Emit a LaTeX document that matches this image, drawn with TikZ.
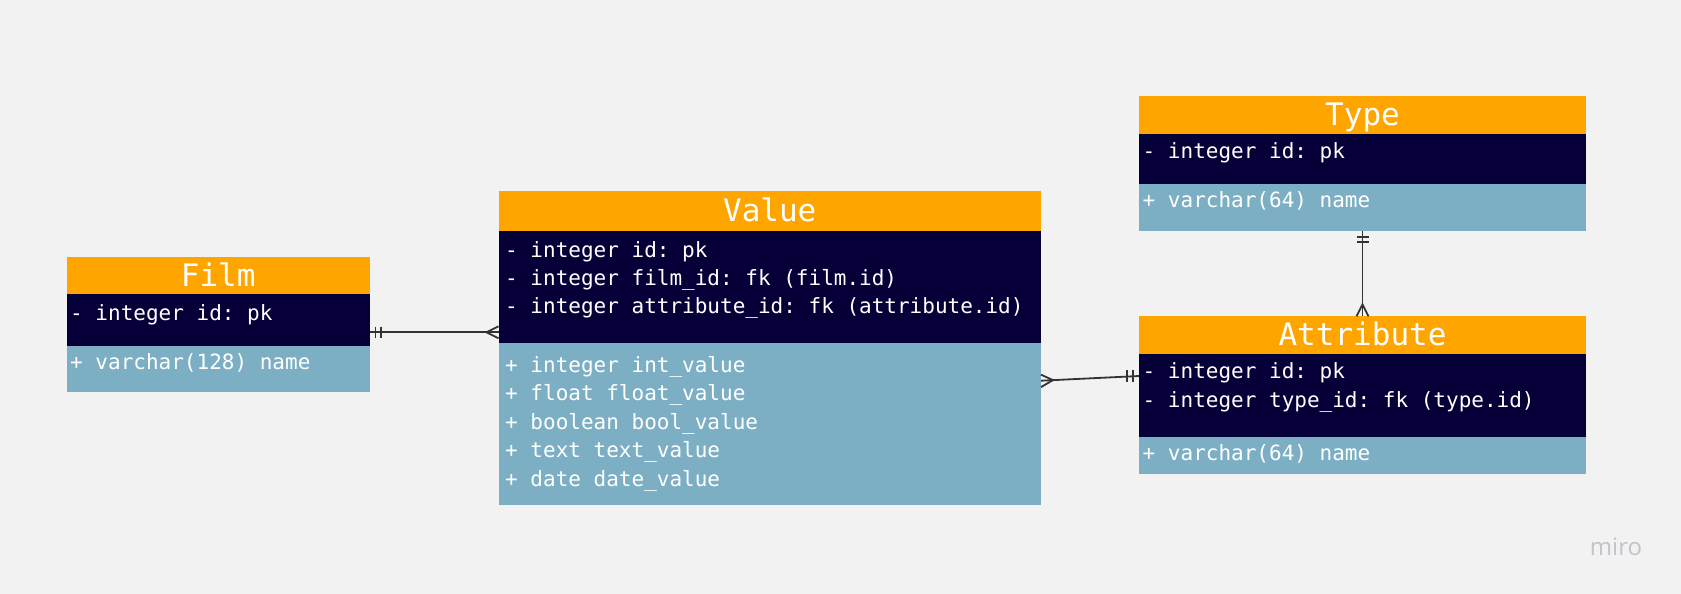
\documentclass[tikz,border=0pt]{standalone}
\usepackage{fontspec}
\setmonofont{DejaVu Sans Mono}
\newfontfamily\logofont{Open Sans}
\usetikzlibrary{calc}
\definecolor{bgc}{HTML}{F2F2F2}
\definecolor{hdrc}{HTML}{FFA500}
\definecolor{keyc}{HTML}{050038}
\definecolor{attc}{HTML}{7DAFC4}
\definecolor{linec}{HTML}{333333}
\definecolor{logoc}{HTML}{C2C3CB}
\begin{document}
\begin{tikzpicture}[x=1pt,y=-1pt,
 part/.style={draw=none,inner sep=0pt,outer sep=0pt},
 hdr/.style={part,fill=hdrc,text=white,text height=24pt,text depth=3pt,font=\ttfamily\fontsize{31}{31}\selectfont},
 keys/.style={part,fill=keyc},
 atts/.style={part,fill=attc},
 row/.style={inner sep=0pt,anchor=mid west,yshift=-5.5pt,text=white,font=\ttfamily\fontsize{21}{21}\selectfont},
 conn/.style={draw=linec,line width=1.8pt},
 logo/.style={inner sep=0pt,text=logoc,font=\logofont\fontsize{24}{24}\selectfont},
]
\fill[bgc] (0,0) rectangle (1681,594);
\useasboundingbox (0,0) rectangle (1681,594);

% ---------- Film ----------
\node[hdr,minimum width=303.5pt,minimum height=37pt] (filmH) at (218.25,275.5) {Film};
\node[keys,minimum width=303.5pt,minimum height=51.5pt] (filmK) at (218.25,319.75) {};
\node[atts,minimum width=303.5pt,minimum height=46.5pt] (filmA) at (218.25,368.75) {};
\node[row] (film1) at (70,312.5) {- integer id: pk};
\node[row] (film2) at (70,362) {+ varchar(128) name};

% ---------- Value ----------
\node[hdr,minimum width=542.5pt,minimum height=39.6pt] (valueH) at (769.75,210.8) {Value};
\node[keys,minimum width=542.5pt,minimum height=112.4pt] (valueK) at (769.75,286.8) {};
\node[atts,minimum width=542.5pt,minimum height=162pt] (valueA) at (769.75,424) {};
\node[row] (value1) at (505,250) {- integer id: pk};
\node[row] (value2) at (505,278) {- integer film\_id: fk (film.id)};
\node[row] (value3) at (505,306) {- integer attribute\_id: fk (attribute.id)};
\node[row] (value4) at (505,364.5) {+ integer int\_value};
\node[row] (value5) at (505,393) {+ float float\_value};
\node[row] (value6) at (505,421.5) {+ boolean bool\_value};
\node[row] (value7) at (505,450) {+ text text\_value};
\node[row] (value8) at (505,478.5) {+ date date\_value};

% ---------- Type ----------
\node[hdr,minimum width=447pt,minimum height=37.7pt] (typeH) at (1362.5,115.15) {Type};
\node[keys,minimum width=447pt,minimum height=50.4pt] (typeK) at (1362.5,159.2) {};
\node[atts,minimum width=447pt,minimum height=46.3pt] (typeA) at (1362.5,207.55) {};
\node[row] (type1) at (1142.5,150.8) {- integer id: pk};
\node[row] (type2) at (1142.5,200.3) {+ varchar(64) name};

% ---------- Attribute ----------
\node[hdr,minimum width=447pt,minimum height=37.5pt] (attrH) at (1362.5,335.05) {Attribute};
\node[keys,minimum width=447pt,minimum height=83.6pt] (attrK) at (1362.5,395.6) {};
\node[atts,minimum width=447pt,minimum height=36.6pt] (attrA) at (1362.5,455.7) {};
\node[row] (attr1) at (1142.5,370.6) {- integer id: pk};
\node[row] (attr2) at (1142.5,399.5) {- integer type\_id: fk (type.id)};
\node[row] (attr3) at (1142.5,453.3) {+ varchar(64) name};

% ---------- connectors ----------
% Film -- Value (one to many)
\coordinate (fv1) at (filmK.east |- 0,332.3);
\coordinate (fv2) at (valueK.west |- 0,332.3);
\draw[conn] (fv1) -- (fv2);
\draw[conn] ($(fv1)+(5.5,-5.8)$) -- ++(0,11.6);
\draw[conn] ($(fv1)+(11,-5.8)$) -- ++(0,11.6);
\draw[conn] ($(fv2)+(0,-6)$) -- ($(fv2)+(-12,0)$) -- ($(fv2)+(0,6)$);

% Value -- Attribute (many to one)
\coordinate (va1) at (valueA.east |- 0,380.7);
\coordinate (va2) at (attrK.west |- 0,376);
\draw[conn] (va1) -- (va2);
\draw[conn] ($(va1)+(0,-6)$) -- ($(va1)+(12,-0.6)$) -- ($(va1)+(0,6.4)$);
\draw[conn] ($(va2)+(-12.3,-5.8)$) -- ++(0,11.6);
\draw[conn] ($(va2)+(-5.7,-5.8)$) -- ++(0,11.6);

% Type -- Attribute (one to many)
\coordinate (ta1) at (typeA.south);
\coordinate (ta2) at (attrH.north);
\draw[conn] (ta1) -- (ta2);
\draw[conn] ($(ta1)+(-6,6.6)$) -- ++(12,0);
\draw[conn] ($(ta1)+(-6,11.6)$) -- ++(12,0);
\draw[conn] ($(ta2)+(-6,0)$) -- ($(ta2)+(0,-12)$) -- ($(ta2)+(6,0)$);

% ---------- logo ----------
\node[logo] (miro) at (1616,546.5) {miro};
\end{tikzpicture}
\end{document}
